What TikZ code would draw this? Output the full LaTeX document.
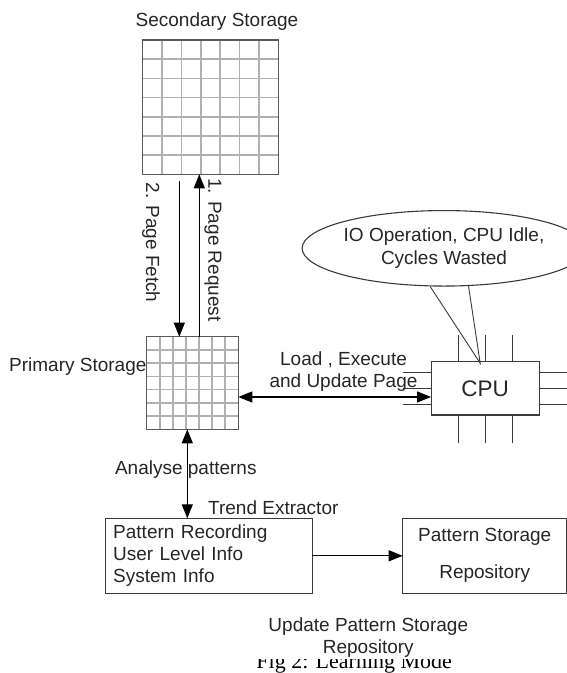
\documentclass[tikz,border=0pt]{standalone}
\usepackage{fontspec}
\setmainfont{Liberation Sans}
\newfontfamily\capfont{Liberation Serif}
\usetikzlibrary{arrows.meta,shapes.geometric,calc}
\definecolor{ink}{HTML}{262626}
\definecolor{edge}{HTML}{3A3A3A}
\definecolor{gridin}{HTML}{B0B0B0}
\definecolor{gridout}{HTML}{5A5A5A}
\tikzset{
  lbl/.style={font=\fontsize{19}{22}\selectfont, text=ink, inner sep=0pt},
  gridbox/.style={draw=gridout, line width=1.3pt, inner sep=0pt, outer sep=0pt},
  boxnode/.style={draw=edge, line width=1.1pt, inner sep=0pt, outer sep=0pt},
  arr/.style={draw=black, line width=1.1pt, -{Triangle[length=14pt,width=11pt]}},
  darr/.style={draw=black, line width=1.1pt, {Triangle[length=14pt,width=11pt]}-{Triangle[length=14pt,width=11pt]}},
  pinline/.style={draw=edge, line width=1.1pt},
  callout/.style={draw=edge, line width=0.9pt},
  gline/.style={draw=gridin, line width=1.6pt}
}
\begin{document}
\begin{tikzpicture}[x=1pt,y=-1pt]
\useasboundingbox (0,0) rectangle (567,673);

% ---- Secondary storage grid
\foreach \i in {1,...,6} {
  \draw[gline] ({142.7+\i*135.6/7},40) -- ({142.7+\i*135.6/7},174.3);
  \draw[gline] (142.7,{40+\i*134.3/7}) -- (278.3,{40+\i*134.3/7});
}
\node[gridbox, minimum width=135.6pt, minimum height=134.3pt] (sec) at (210.5,107.15) {};
\node[lbl, anchor=base] (seclbl) at (217,26.7) {Secondary Storage};

% ---- Primary storage grid
\foreach \i in {1,...,6} {
  \draw[gline] ({146.7+\i*91.6/7},336.7) -- ({146.7+\i*91.6/7},429.3);
  \draw[gline] (146.7,{336.7+\i*92.6/7}) -- (238.3,{336.7+\i*92.6/7});
}
\node[gridbox, minimum width=91.6pt, minimum height=92.6pt] (prim) at (192.5,383) {};
\node[lbl, anchor=base] (primlbl) at (77.8,371.7) {Primary Storage};

% ---- Page fetch / request
\draw[arr] ([xshift=-31.2pt,yshift=-7pt]sec.south) -- ([xshift=-13.2pt]prim.north);
\draw[arr] ([xshift=6.8pt]prim.north) -- ([xshift=-11.2pt]sec.south);
\node[lbl, rotate=-90] (fetchlbl) at (151,242.5) {2. Page Fetch};
\node[lbl, rotate=-90] (reqlbl) at (213,250) {1. Page Request};

% ---- CPU
\node[boxnode, minimum width=108.3pt, minimum height=53.3pt,
      font=\fontsize{22.5}{26}\selectfont, text=ink] (cpu) at (485.2,388.3) {CPU};
\foreach \d in {-27,0,27} {
  \draw[pinline] ([xshift=\d pt]cpu.north) -- ++(0,-27);
  \draw[pinline] ([xshift=\d pt]cpu.south) -- ++(0,27.7);
}
\foreach \d in {15.6,0,-16} {
  \draw[pinline] ([yshift=\d pt]cpu.west) -- ++(-28,0);
  \draw[pinline] ([yshift=\d pt]cpu.east) -- ++(28,0);
}

% ---- Callout ellipse
\node[ellipse, draw=edge, line width=1.1pt, minimum width=243pt, minimum height=75.5pt,
      inner sep=0pt, align=center, font=\fontsize{19}{22.5}\selectfont, text=ink]
      (ell) at (444,248.3) {IO Operation, CPU Idle,\\Cycles Wasted};
\coordinate (tip) at ([xshift=-5pt,yshift=-1.5pt]cpu.north);
\draw[callout] (ell.250) -- (tip) -- (ell.303);

% ---- Load arrow
\draw[darr] ([yshift=-14pt]prim.east) -- ([yshift=-8.7pt]cpu.west);
\node[lbl, align=center, anchor=base] (loadlbl) at (343.5,387.7) {Load , Execute\\and Update Page};

% ---- Trend extractor box
\node[boxnode, text width=191pt, inner xsep=8pt, minimum height=75pt, align=left,
      font=\fontsize{19}{22}\selectfont, text=ink] (trend) at (208.7,555.8)
      {Pattern Recording\\User Level Info\\System Info};
\node[lbl, anchor=base] (trendlbl) at (273.3,514) {Trend Extractor};

% ---- Analyse arrow
\draw[darr] ([xshift=-5.2pt]prim.south) -- ([xshift=-21.4pt]trend.north);
\node[lbl, anchor=base] (analbl) at (185.8,474.3) {Analyse patterns};

% ---- Pattern storage box
\node[boxnode, minimum width=164pt, minimum height=75pt, align=center,
      font=\fontsize{19}{22}\selectfont, text=ink] (pat) at (484.7,555.8)
      {Pattern Storage\\[15pt]Repository};
\draw[arr] (trend.east) -- (pat.west);

% ---- Update label
\node[lbl, align=center, anchor=base] (updlbl) at (368.3,653) {Update Pattern Storage\\Repository};

% ---- Caption (top part hidden as in the reference)
\begin{scope}
\clip (0,659.5) rectangle (567,673);
\node[font=\capfont\fontsize{22}{26}\selectfont, text=black, inner sep=0pt, anchor=base,
      text height=7pt, text depth=4pt]
      (cap) at (354.2,668) {Fig 2: Learning Mode};
\end{scope}
\end{tikzpicture}
\end{document}
